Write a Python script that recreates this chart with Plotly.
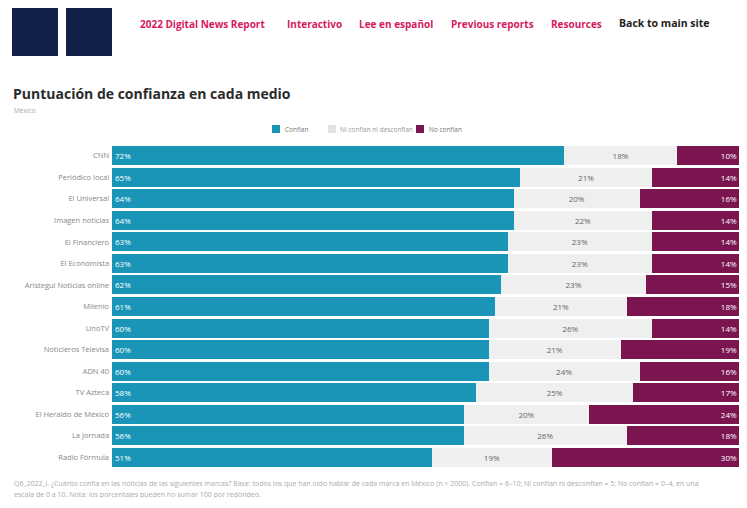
import plotly.graph_objects as go

# ---------------- data ----------------
medios = ["CNN", "Periódico local", "El Universal", "Imagen noticias", "El Financiero",
          "El Economista", "Aristegui Noticias online", "Milenio", "UnoTV",
          "Noticieros Televisa", "ADN 40", "TV Azteca", "El Heraldo de México",
          "La Jornada", "Radio Fórmula"]
confian = [72, 65, 64, 64, 63, 63, 62, 61, 60, 60, 60, 58, 56, 56, 51]
ni_ni = [18, 21, 20, 22, 23, 23, 23, 21, 26, 21, 24, 25, 20, 26, 19]
no_confian = [10, 14, 16, 14, 14, 14, 15, 18, 14, 19, 16, 17, 24, 18, 30]

series_names = ["Confían", "Ni confían ni desconfían", "No confían"]
nav_links = ["2022 Digital News Report", "Interactivo", "Lee en español",
             "Previous reports", "Resources"]
nav_main = "Back to main site"

# ---------------- layout helpers (page coords; body has 8px margin) ----------------
OFF = 8
W, H = 739, 490
L = 112 - OFF          # plot left at page x=112
T = 145 - OFF          # plot top at page y=145
R = W - (740 - OFF)    # plot right at page x=740
B = H - (468 - OFF)    # plot bottom at page y=468
PW, PH = W - L - R, H - T - B


def px(x):
    return (x - OFF - L) / PW


def py(y):
    return (H - B - (y - OFF)) / PH


TEAL = "#1a95b8"
GREY = "#efefef"
PURPLE = "#7a1550"
FONT = "Open Sans, Noto Sans, sans-serif"

fig = go.Figure()
fig.add_bar(y=medios, x=confian, orientation="h", name=series_names[0],
            marker=dict(color=TEAL, line=dict(width=0)),
            text=[f"{v}%" for v in confian], textposition="inside",
            insidetextanchor="start",
            textfont=dict(color="white", size=8, family=FONT),
            hoverinfo="x+y")
fig.add_bar(y=medios, x=ni_ni, orientation="h", name=series_names[1],
            marker=dict(color=GREY, line=dict(width=0)),
            text=[f"{v}%" for v in ni_ni], textposition="inside",
            insidetextanchor="middle",
            textfont=dict(color="#666666", size=8, family=FONT),
            hoverinfo="x+y")
fig.add_bar(y=medios, x=no_confian, orientation="h", name=series_names[2],
            marker=dict(color=PURPLE, line=dict(width=0)),
            text=[f"{v}%" for v in no_confian], textposition="inside",
            insidetextanchor="end",
            textfont=dict(color="white", size=8, family=FONT),
            hoverinfo="x+y")

fig.update_layout(
    width=W, height=H,
    margin=dict(l=L, r=R, t=T, b=B, pad=0),
    barmode="stack", bargap=0.12,
    paper_bgcolor="white", plot_bgcolor="white",
    font=dict(family=FONT, color="#444"),
    uniformtext=dict(minsize=7, mode="show"),
    xaxis=dict(range=[0, 100], visible=False, fixedrange=True),
    yaxis=dict(autorange="reversed", showgrid=False, showline=False,
               ticks="", ticksuffix=" ", tickfont=dict(size=7.5, color="#888"),
               fixedrange=True),
    showlegend=False,
)

shapes = []
# header thumbnails
for x0 in (12, 66):
    shapes.append(dict(type="rect", xref="paper", yref="paper",
                       x0=px(x0), x1=px(x0 + 46), y0=py(56), y1=py(6),
                       fillcolor="#13204a", line=dict(width=0), layer="above"))
# manual legend swatches
leg = [(272, TEAL, series_names[0], "#777", 283),
       (328, "#e4e4e4", series_names[1], "#999", 338),
       (416, PURPLE, series_names[2], "#777", 427)]
for x0, c, _, _, _ in leg:
    shapes.append(dict(type="rect", xref="paper", yref="paper",
                       x0=px(x0), x1=px(x0 + 8), y0=py(133), y1=py(125),
                       fillcolor=c, line=dict(width=0), layer="above"))
fig.update_layout(shapes=shapes)

ann = []
for x0, _, name, col, tx in leg:
    ann.append(dict(text=name, x=px(tx), y=py(129), xref="paper", yref="paper",
                    xanchor="left", yanchor="middle", showarrow=False,
                    font=dict(size=6.5, color=col, family=FONT)))
nav_x = [138, 285, 357, 449, 549]
for t, x in zip(nav_links, nav_x):
    ann.append(dict(text="<b>" + t + "</b>", x=px(x), y=py(24), xref="paper", yref="paper",
                    xanchor="left", yanchor="middle", showarrow=False,
                    font=dict(size=10, color="#d6195f", family=FONT)))
ann.append(dict(text="<b>" + nav_main + "</b>", x=px(617), y=py(23), xref="paper",
                yref="paper", xanchor="left", yanchor="middle", showarrow=False,
                font=dict(size=10.5, color="#222", family=FONT)))
ann.append(dict(text="<b>Puntuación de confianza en cada medio</b>", x=px(11), y=py(94),
                xref="paper", yref="paper", xanchor="left", yanchor="middle",
                showarrow=False, font=dict(size=14, color="#2b2b2b", family=FONT)))
ann.append(dict(text="México", x=px(12), y=py(110), xref="paper", yref="paper",
                xanchor="left", yanchor="middle", showarrow=False,
                font=dict(size=6.5, color="#aaa", family=FONT)))
ann.append(dict(text="Q6_2022_i. ¿Cuánto confía en las noticias de las siguientes marcas? Base: todos los que han oído hablar de cada marca en México "
                     "(n ≈ 2000). Confían = 6–10; Ni confían ni desconfían = 5; No confían = 0–4, en una",
                x=px(12), y=py(483), xref="paper", yref="paper", xanchor="left",
                yanchor="middle", showarrow=False,
                font=dict(size=7, color="#aaa", family=FONT)))
ann.append(dict(text="escala de 0 a 10. Nota: los porcentajes pueden no sumar 100 por redondeo.",
                x=px(12), y=py(494), xref="paper", yref="paper", xanchor="left",
                yanchor="middle", showarrow=False,
                font=dict(size=7, color="#aaa", family=FONT)))
fig.update_layout(annotations=ann)

fig.write_html("out.html")
